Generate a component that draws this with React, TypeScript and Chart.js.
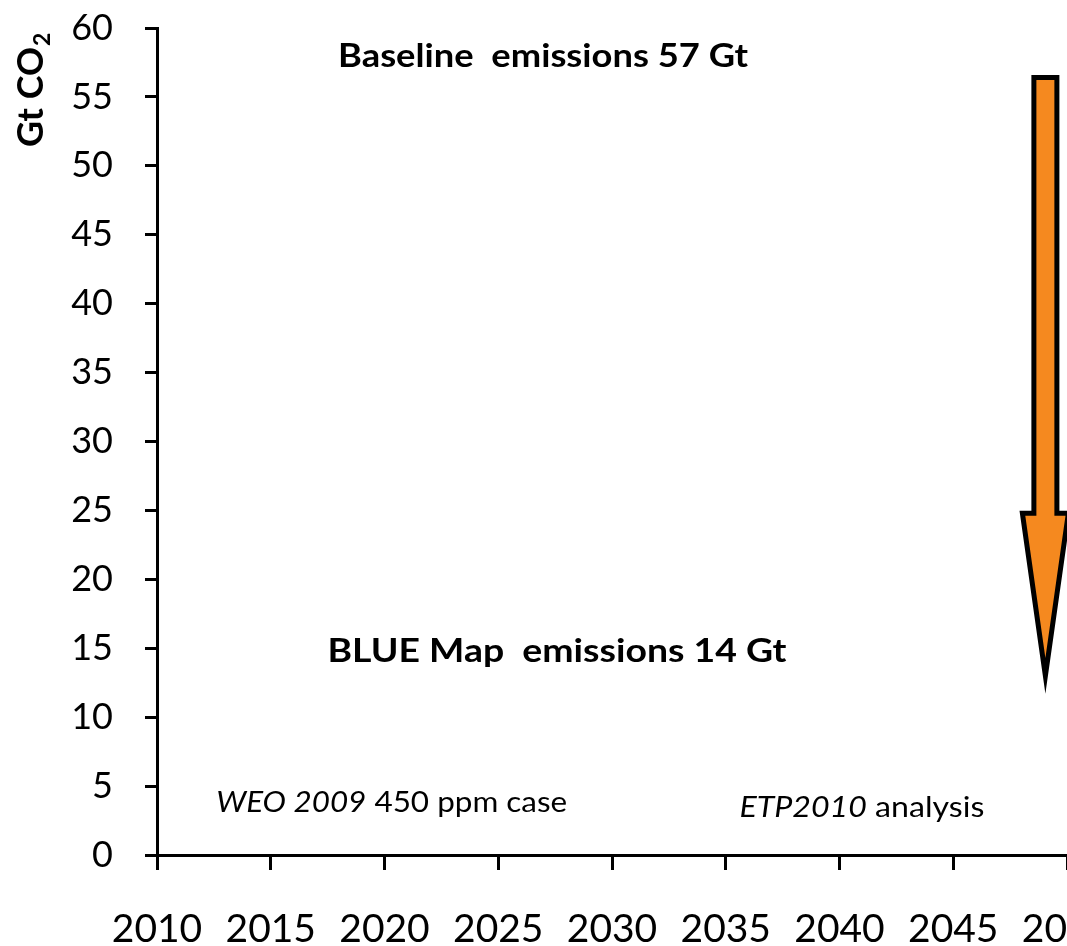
import React, { useEffect, useRef } from "react";
import { Chart, registerables } from "chart.js";

Chart.register(...registerables);

// ---- data ----
const xTickYears = [2010, 2015, 2020, 2025, 2030, 2035, 2040, 2045, 2050];
const yTickValues = [0, 5, 10, 15, 20, 25, 30, 35, 40, 45, 50, 55, 60];
const arrowYear = 2049.05;
const arrowTopValue = 56.4;
const arrowHeadBaseValue = 24.8;
const arrowTipValue = 13.0;

const yAxisTitle = "Gt CO";
const yAxisTitleSub = "2";
const baselineLabel = "Baseline  emissions 57 Gt";
const blueMapLabel = "BLUE Map  emissions 14 Gt";
const weoLabelItalic = "WEO 2009";
const weoLabelRegular = " 450 ppm case";
const etpLabelItalic = "ETP2010";
const etpLabelRegular = " analysis";

// annotation anchors (in data units)
const anchors = {
  baseline: { x: 2026.97, y: 57.2 },
  blueMap: { x: 2027.58, y: 14.0 },
  weo: { x: 2012.6, y: 3.12 },
  etp: { x: 2035.6, y: 2.76 },
};

const FONT = "Lato, 'Noto Sans', 'DejaVu Sans', sans-serif";
const ORANGE = "#F5891F";

type Run = { text: string; style?: string; weight?: string; size: number };

function drawRuns(
  ctx: CanvasRenderingContext2D,
  runs: Run[],
  x: number,
  y: number,
  align: "left" | "center",
  targetWidth: number
) {
  const fontOf = (r: Run) =>
    `${r.style || "normal"} ${r.weight || "normal"} ${r.size}px ${FONT}`;
  let total = 0;
  const widths = runs.map((r) => {
    ctx.font = fontOf(r);
    const w = ctx.measureText(r.text).width;
    total += w;
    return w;
  });
  const sx = targetWidth / total;
  const start = align === "center" ? x - targetWidth / 2 : x;
  ctx.save();
  ctx.translate(start, y);
  ctx.scale(sx, 1);
  ctx.textAlign = "left";
  ctx.textBaseline = "alphabetic";
  let cx = 0;
  runs.forEach((r, i) => {
    ctx.font = fontOf(r);
    ctx.fillText(r.text, cx, 0);
    cx += widths[i];
  });
  ctx.restore();
}

const overlayPlugin = {
  id: "overlay",
  afterDraw(chart: any) {
    const ctx: CanvasRenderingContext2D = chart.ctx;
    const xs = chart.scales.x;
    const ys = chart.scales.y;
    ctx.save();
    ctx.fillStyle = "#000";

    // y axis title (rotated, near top)
    ctx.save();
    ctx.translate(43, ys.getPixelForValue(60) + 119);
    ctx.rotate(-Math.PI / 2);
    ctx.textAlign = "left";
    ctx.textBaseline = "alphabetic";
    ctx.font = `bold 36px ${FONT}`;
    ctx.fillText(yAxisTitle, 0, 0);
    const tw = ctx.measureText(yAxisTitle).width;
    ctx.font = `bold 23px ${FONT}`;
    ctx.fillText(yAxisTitleSub, tw + 1, 7);
    ctx.restore();

    // annotations
    drawRuns(
      ctx,
      [{ text: baselineLabel, weight: "bold", size: 33 }],
      xs.getPixelForValue(anchors.baseline.x),
      ys.getPixelForValue(anchors.baseline.y),
      "center",
      410
    );
    drawRuns(
      ctx,
      [{ text: blueMapLabel, weight: "bold", size: 33 }],
      xs.getPixelForValue(anchors.blueMap.x),
      ys.getPixelForValue(anchors.blueMap.y),
      "center",
      459
    );
    drawRuns(
      ctx,
      [
        { text: weoLabelItalic, style: "italic", size: 29 },
        { text: weoLabelRegular, size: 29 },
      ],
      xs.getPixelForValue(anchors.weo.x),
      ys.getPixelForValue(anchors.weo.y),
      "left",
      351
    );
    drawRuns(
      ctx,
      [
        { text: etpLabelItalic, style: "italic", size: 29 },
        { text: etpLabelRegular, size: 29 },
      ],
      xs.getPixelForValue(anchors.etp.x),
      ys.getPixelForValue(anchors.etp.y),
      "left",
      245
    );

    // arrow
    const cx = xs.getPixelForValue(arrowYear);
    const yTop = ys.getPixelForValue(arrowTopValue);
    const yBase = ys.getPixelForValue(arrowHeadBaseValue);
    const yTip = ys.getPixelForValue(arrowTipValue);
    const sw = 11.5;
    const hw = 23;
    ctx.beginPath();
    ctx.moveTo(cx - sw, yTop);
    ctx.lineTo(cx + sw, yTop);
    ctx.lineTo(cx + sw, yBase);
    ctx.lineTo(cx + hw, yBase);
    ctx.lineTo(cx, yTip);
    ctx.lineTo(cx - hw, yBase);
    ctx.lineTo(cx - sw, yBase);
    ctx.closePath();
    ctx.fillStyle = ORANGE;
    ctx.fill();
    ctx.lineWidth = 5;
    ctx.lineJoin = "miter";
    ctx.miterLimit = 20;
    ctx.strokeStyle = "#000";
    ctx.stroke();

    ctx.restore();
  },
};

export default function App() {
  const canvasRef = useRef<HTMLCanvasElement | null>(null);

  useEffect(() => {
    const canvas = canvasRef.current;
    if (!canvas) return;
    const chart = new Chart(canvas, {
      type: "scatter",
      data: { datasets: [{ data: [] }] },
      options: {
        animation: false,
        responsive: false,
        devicePixelRatio: 1,
        layout: { padding: { top: 28, left: 0, right: 0, bottom: 0 } },
        plugins: {
          legend: { display: false },
          tooltip: { enabled: false },
        },
        scales: {
          x: {
            type: "linear",
            min: xTickYears[0],
            max: xTickYears[xTickYears.length - 1],
            afterBuildTicks: (s: any) => {
              s.ticks = xTickYears.map((v) => ({ value: v }));
            },
            afterFit: (s: any) => {
              s.height = 91;
              s.paddingLeft = 0;
              s.paddingRight = 0;
            },
            border: { display: true, color: "#000", width: 3 },
            grid: {
              drawOnChartArea: false,
              drawTicks: true,
              tickLength: 15,
              color: "#000",
              lineWidth: 3,
            },
            ticks: {
              color: "#000",
              font: { family: FONT, size: 39 },
              padding: 36,
              maxRotation: 0,
              autoSkip: false,
              callback: (v: any) => String(v),
            },
          },
          y: {
            type: "linear",
            min: yTickValues[0],
            max: yTickValues[yTickValues.length - 1],
            afterBuildTicks: (s: any) => {
              s.ticks = yTickValues.map((v) => ({ value: v }));
            },
            afterFit: (s: any) => {
              s.width = 157;
              s.paddingTop = 0;
              s.paddingBottom = 0;
            },
            border: { display: true, color: "#000", width: 3 },
            grid: {
              drawOnChartArea: false,
              drawTicks: true,
              tickLength: 12,
              color: "#000",
              lineWidth: 3,
            },
            ticks: {
              color: "#000",
              font: { family: FONT, size: 36 },
              padding: 32,
              autoSkip: false,
              callback: (v: any) => String(v),
            },
          },
        },
      },
      plugins: [overlayPlugin],
    } as any);
    return () => chart.destroy();
  }, []);

  return (
    <div
      style={{
        position: "absolute",
        left: 0,
        top: 0,
        width: 1067,
        height: 946,
        overflow: "hidden",
        background: "#fff",
      }}
    >
      <canvas
        ref={canvasRef}
        width={1067}
        height={946}
        style={{ display: "block", width: 1067, height: 946 }}
      />
    </div>
  );
}
